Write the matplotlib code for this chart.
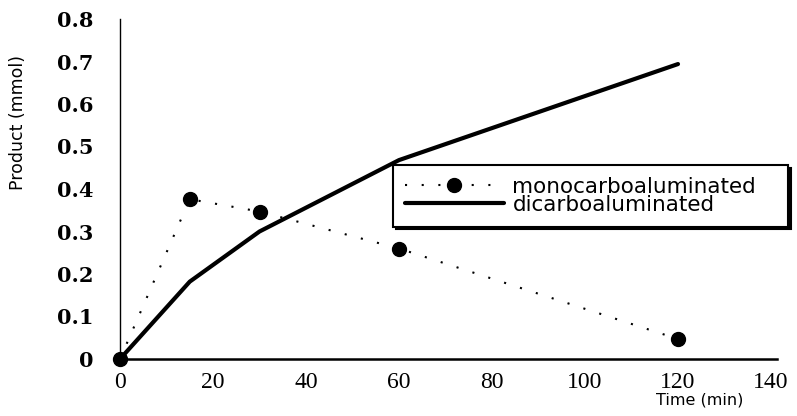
import matplotlib
matplotlib.use("Agg")
import matplotlib.pyplot as plt

# data
time_mono = [0, 15, 30, 60, 120]
mono = [0.0, 0.376, 0.347, 0.26, 0.047]
time_di = [0, 15, 30, 60, 120]
di = [0.0, 0.182, 0.30, 0.468, 0.694]

x_ticks = [0, 20, 40, 60, 80, 100, 120, 140]
y_ticks = [0, 0.1, 0.2, 0.3, 0.4, 0.5, 0.6, 0.7, 0.8]
y_ticklabels = ["0", "0.1", "0.2", "0.3", "0.4", "0.5", "0.6", "0.7", "0.8"]

W, H = 797, 416
fig = plt.figure(figsize=(W / 100, H / 100), dpi=100)
ax = fig.add_axes([120 / W, (H - 359) / H, (777 - 120) / W, 340 / H])

ax.plot(time_mono, mono, color="black", linestyle=(0, (1, 7)), linewidth=1.5,
        marker="o", markersize=10, label="monocarboaluminated", clip_on=False)
ax.plot(time_di, di, color="black", linewidth=3, solid_capstyle="round",
        label="dicarboaluminated", clip_on=False)

ax.set_xlim(0, (777 - 120) / 4.65)
ax.set_ylim(0, 0.8)

ax.set_xticks(x_ticks)
ax.set_xticklabels([str(t) for t in x_ticks], fontfamily="Liberation Serif", fontsize=17)
ax.set_yticks(y_ticks)
ax.set_yticklabels(y_ticklabels, fontfamily="DejaVu Serif", fontweight="bold", fontsize=15)
ax.tick_params(axis="both", length=0)
ax.tick_params(axis="y", pad=19)
ax.tick_params(axis="x", pad=9)

ax.spines["top"].set_visible(False)
ax.spines["right"].set_visible(False)
ax.spines["left"].set_linewidth(1.0)
ax.spines["bottom"].set_linewidth(1.8)

fig.text(700 / W, 1 - 400 / H, "Time (min)", ha="center", va="center",
         fontfamily="DejaVu Sans", fontsize=11.5)
fig.text(18 / W, 1 - 122 / H, "Product (mmol)", rotation=90, ha="center", va="center",
         fontfamily="DejaVu Sans", fontsize=12.5)

# legend box spans x 393..788 px, top at y 165 px
leg = fig.legend(loc="upper left",
                 bbox_to_anchor=(393 / W, 1 - 227 / H, (788 - 393) / W, 62 / H),
                 mode="expand", fontsize=15.5, frameon=True, fancybox=False,
                 handlelength=4.6, handletextpad=0.4, labelspacing=-0.1,
                 borderpad=0.55, borderaxespad=0,
                 shadow={"color": "black", "alpha": 1})
leg.get_frame().set_edgecolor("black")
leg.get_frame().set_linewidth(1.5)

fig.savefig("out.png", dpi=100)
